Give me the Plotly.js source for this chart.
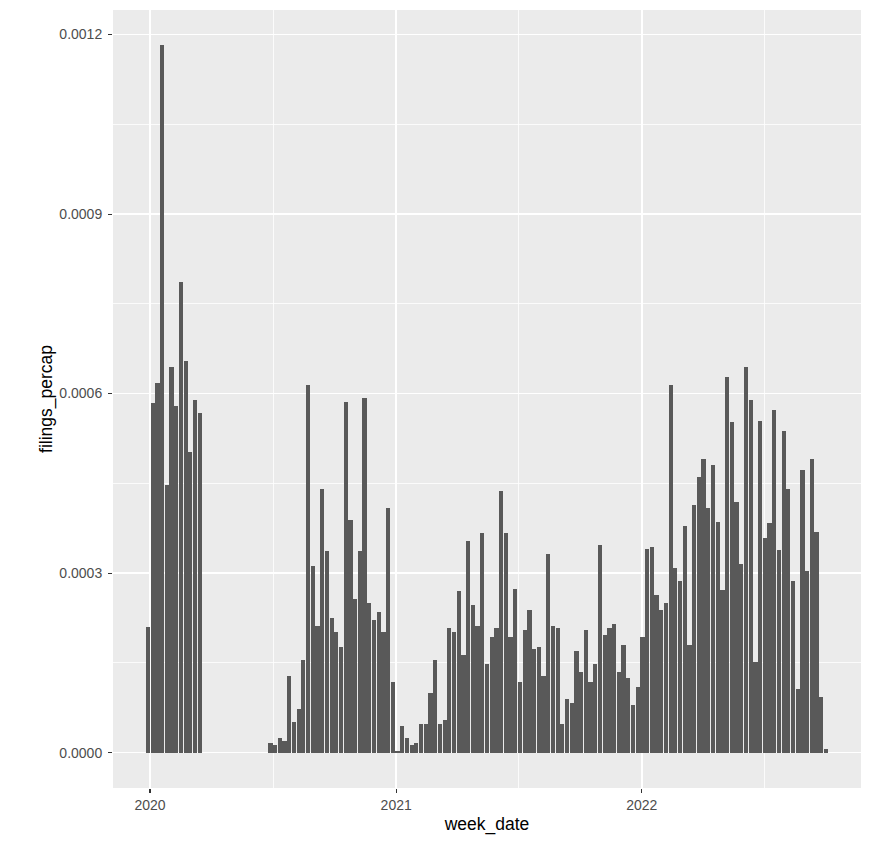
<!DOCTYPE html>
<html>
<head>
<meta charset="utf-8">
<script src="https://cdn.plot.ly/plotly-3.0.1.min.js"></script>
<style>
  html, body { margin: 0; padding: 0; background: #ffffff; }
  #chart { width: 874px; height: 846px; }
</style>
</head>
<body>
<div id="chart"></div>
<script>
// Weekly series, first segment (weeks starting 2019-12-29)
const segment1Start = '2019-12-29';
const segment1Values = [
  0.000210, 0.000585, 0.000617, 0.001182, 0.000447, 0.000644,
  0.000579, 0.000787, 0.000655, 0.000502, 0.000589, 0.000568
];

// Weekly series, second segment (weeks starting 2020-06-28)
const segment2Start = '2020-06-28';
const segment2Values2020 = [
  0.0000161, 0.0000128, 0.0000245, 0.0000200, 0.000128, 0.0000512,
  0.0000729, 0.000155, 0.000614, 0.000312, 0.000212, 0.000440,
  0.000337, 0.000225, 0.000201, 0.000176, 0.000586, 0.000389,
  0.000257, 0.000337, 0.000592, 0.000250, 0.000222, 0.000235,
  0.000201, 0.000409, 0.000118
];
const segment2Values2021 = [
  0.0000028, 0.0000445, 0.0000245, 0.0000128, 0.0000161, 0.0000479,
  0.0000479, 0.0000996, 0.000155, 0.0000479, 0.0000545, 0.000208,
  0.000201, 0.000270, 0.000163, 0.000353, 0.000247, 0.000212,
  0.000367, 0.000148, 0.000193, 0.000208, 0.000437, 0.000367,
  0.000193, 0.000273, 0.000118, 0.000205, 0.000238, 0.000173,
  0.000176, 0.000128, 0.000332, 0.000212, 0.000208, 0.0000479,
  0.0000896, 0.0000829, 0.000170, 0.000135, 0.000205, 0.000118,
  0.000148, 0.000347, 0.000196, 0.000208, 0.000215, 0.000135,
  0.000180, 0.000125, 0.0000796, 0.000110
];
const segment2Values2022 = [
  0.000193, 0.000340, 0.000343, 0.000263, 0.000238, 0.000250,
  0.000614, 0.000308, 0.000287, 0.000378, 0.000180, 0.000413,
  0.000461, 0.000490, 0.000409, 0.000480, 0.000386, 0.000271,
  0.000628, 0.000552, 0.000419, 0.000316, 0.000645, 0.000590,
  0.000152, 0.000555, 0.000358, 0.000383, 0.000573, 0.000338,
  0.000538, 0.000441, 0.000287, 0.000107, 0.000473, 0.000303,
  0.000490, 0.000368, 0.0000936, 0.0000067
];

const yTickVals = [0, 0.0003, 0.0006, 0.0009, 0.0012];
const yTickText = ['0.0000', '0.0003', '0.0006', '0.0009', '0.0012'];

const DAY = 86400000;
function weekDates(start, n) {
  const t0 = Date.parse(start + 'T00:00:00Z');
  const out = [];
  for (let i = 0; i < n; i++) {
    out.push(new Date(t0 + i * 7 * DAY).toISOString().slice(0, 10));
  }
  return out;
}

const seg2Values = segment2Values2020.concat(segment2Values2021, segment2Values2022);
const xDates = weekDates(segment1Start, segment1Values.length)
  .concat(weekDates(segment2Start, seg2Values.length));
const yVals = segment1Values.concat(seg2Values);

const trace = {
  type: 'bar',
  x: xDates,
  y: yVals,
  width: 6.3 * DAY,
  marker: { color: '#595959', line: { width: 0 } },
  hoverinfo: 'x+y'
};

const fontFamily = '"Liberation Sans", Arial, sans-serif';

const layout = {
  width: 874,
  height: 846,
  margin: { l: 113, r: 13, t: 10, b: 58, pad: 0 },
  paper_bgcolor: '#ffffff',
  plot_bgcolor: '#EBEBEB',
  showlegend: false,
  bargap: 0,
  font: { family: fontFamily, color: '#4D4D4D', size: 14 },
  xaxis: {
    type: 'date',
    range: ['2019-11-07', '2022-11-23'],
    tick0: '2020-01-01',
    dtick: 'M12',
    tickformat: '%Y',
    ticks: 'outside',
    ticklen: 4,
    tickwidth: 1.1,
    tickcolor: '#333333',
    showgrid: true,
    gridcolor: '#FFFFFF',
    gridwidth: 1.6,
    minor: {
      tick0: '2020-07-02',
      dtick: 'M12',
      showgrid: true,
      gridcolor: '#FFFFFF',
      gridwidth: 0.8,
      ticks: ''
    },
    zeroline: false,
    showline: false,
    tickfont: { family: fontFamily, size: 14, color: '#4D4D4D' },
    title: { text: 'week_date', font: { family: fontFamily, size: 17.5, color: '#000000' }, standoff: 5 },
    fixedrange: true
  },
  yaxis: {
    range: [-0.0000591, 0.001241],
    tickvals: yTickVals,
    ticktext: yTickText,
    ticks: 'outside',
    ticklen: 4,
    tickwidth: 1.1,
    tickcolor: '#333333',
    ticklabelstandoff: 3,
    showgrid: true,
    gridcolor: '#FFFFFF',
    gridwidth: 1.6,
    minor: {
      tick0: 0.00015,
      dtick: 0.0003,
      showgrid: true,
      gridcolor: '#FFFFFF',
      gridwidth: 0.8,
      ticks: ''
    },
    zeroline: false,
    showline: false,
    tickfont: { family: fontFamily, size: 14, color: '#4D4D4D' },
    title: { text: 'filings_percap', font: { family: fontFamily, size: 17.5, color: '#000000' }, standoff: 2 },
    fixedrange: true
  }
};

Plotly.newPlot('chart', [trace], layout, { displayModeBar: false, staticPlot: true });
</script>
</body>
</html>
